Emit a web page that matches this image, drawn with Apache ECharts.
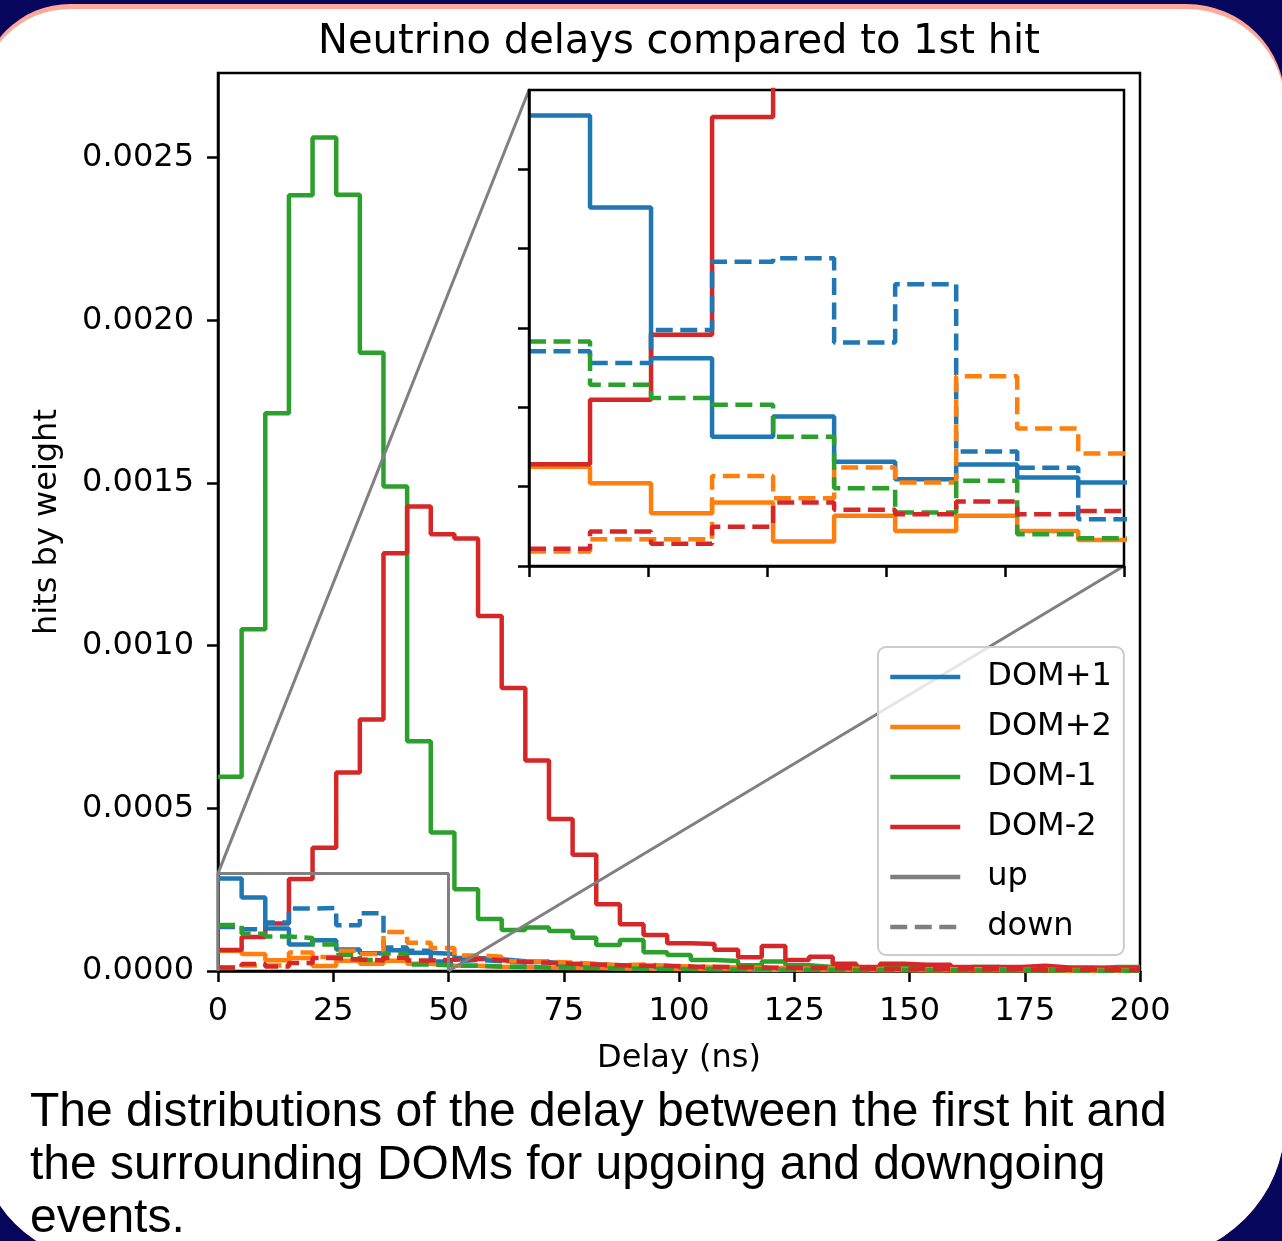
<!DOCTYPE html>
<html>
<head>
<meta charset="utf-8">
<script src="https://cdn.jsdelivr.net/npm/echarts@6/dist/echarts.min.js"></script>
<style>
  html, body { margin: 0; padding: 0; background: #06065c; }
  #main { width: 1282px; height: 1241px; }
</style>
</head>
<body>
<div id="main"></div>
<script>
// 39 bins over 0..200 ns (step histograms)
const binCount = 39;
const xRange = [0, 200];
const xTicks = [0, 25, 50, 75, 100, 125, 150, 175, 200];
const yTicks = [0, 0.0005, 0.001, 0.0015, 0.002, 0.0025];
const yMax = 0.00276;

// zoomed inset
const insetXMax = 50;
const insetYMax = 0.0003;
const insetXTicks = [0, 10, 20, 30, 40, 50];
const insetYTicks = [0, 0.00005, 0.0001, 0.00015, 0.0002, 0.00025];

const names = ['DOM+1', 'DOM+2', 'DOM-1', 'DOM-2'];
const colors = ['#1f77b4', '#ff7f0e', '#2ca02c', '#d62728'];

// upgoing (solid)
const dom1Up = [0.000284, 0.000226, 0.000131, 0.0000815, 0.0000943, 0.0000657, 0.0000547, 0.000064, 0.0000558, 0.0000526,
  0.000040, 0.000036, 0.000030, 0.000027, 0.000022, 0.000020, 0.000017, 0.000015, 0.000013, 0.000012,
  0.000010, 0.000009, 0.000009, 0.000008, 0.000007, 0.000007, 0.000006, 0.000006, 0.000005, 0.000005,
  0.000005, 0.000004, 0.000004, 0.000004, 0.000004, 0.000003, 0.000003, 0.000003, 0.000003];
const dom2Up = [0.0000625, 0.0000522, 0.0000333, 0.00004, 0.0000154, 0.0000316, 0.0000221, 0.0000316, 0.0000221, 0.0000164,
  0.000016, 0.000013, 0.000012, 0.000010, 0.000009, 0.000009, 0.000008, 0.000007, 0.000006, 0.000006,
  0.000005, 0.000005, 0.000004, 0.000004, 0.000004, 0.000003, 0.000003, 0.000003, 0.000003, 0.000002,
  0.000002, 0.000002, 0.000002, 0.000002, 0.000002, 0.000001, 0.000001, 0.000001, 0.000001];
const domM1Up = [0.000597, 0.00105, 0.001714, 0.002384, 0.002562, 0.002386, 0.0019, 0.001489, 0.000706, 0.000426,
  0.000251, 0.00016, 0.000126, 0.000134, 0.000123, 0.000102, 0.00008, 0.000095, 0.000058, 0.000049,
  0.000034, 0.000031, 0.000018, 0.000029, 0.000018, 0.000012, 0.000012, 0.00001, 0.000012, 0.00001,
  0.000008, 0.000012, 0.000012, 0.000008, 0.000008, 0.000007, 0.000006, 0.000012, 0.000012];
const domM2Up = [0.0000642, 0.0001048, 0.0001457, 0.000283, 0.000379, 0.00061, 0.000773, 0.001284, 0.001428, 0.001342,
  0.001329, 0.001091, 0.00087, 0.000647, 0.000467, 0.000357, 0.000205, 0.000144, 0.000111, 0.000085,
  0.000083, 0.000065, 0.000042, 0.000077, 0.000034, 0.000044, 0.000022, 0.000012, 0.000022, 0.000019,
  0.000019, 0.000012, 0.000012, 0.000012, 0.000016, 0.000011, 0.000011, 0.000009, 0.000009];

// downgoing (dashed)
const dom1Down = [0.0001354, 0.000128, 0.0001488, 0.0001918, 0.0001939, 0.0001408, 0.0001775, 0.0000722, 0.0000619, 0.0000295,
  0.000034, 0.000030, 0.000026, 0.000029, 0.000021, 0.000018, 0.000016, 0.000014, 0.000012, 0.000011,
  0.000010, 0.000009, 0.000008, 0.000008, 0.000007, 0.000006, 0.000006, 0.000005, 0.000005, 0.000005,
  0.000004, 0.000004, 0.000004, 0.000003, 0.000003, 0.000003, 0.000003, 0.000002, 0.000002];
const dom2Down = [0.0000091, 0.0000168, 0.0000168, 0.0000568, 0.0000427, 0.0000621, 0.0000526, 0.0001196, 0.0000867, 0.0000709,
  0.000048, 0.000044, 0.000030, 0.000028, 0.000026, 0.000022, 0.000018, 0.000020, 0.000016, 0.000014,
  0.000012, 0.000011, 0.000010, 0.000009, 0.000008, 0.000008, 0.000007, 0.000006, 0.000006, 0.000005,
  0.000005, 0.000005, 0.000004, 0.000004, 0.000004, 0.000003, 0.000003, 0.000003, 0.000003];
const domM1Down = [0.0001415, 0.0001143, 0.0001059, 0.0001017, 0.0000815, 0.000049, 0.0000337, 0.0000537, 0.00002, 0.0000175,
  0.000016, 0.000014, 0.000012, 0.000011, 0.000010, 0.000009, 0.000008, 0.000007, 0.000007, 0.000006,
  0.000006, 0.000005, 0.000005, 0.000004, 0.000004, 0.000004, 0.000003, 0.000003, 0.000003, 0.000003,
  0.000002, 0.000002, 0.000002, 0.000002, 0.000002, 0.000002, 0.000001, 0.000001, 0.000001];
const domM2Down = [0.0000109, 0.0000217, 0.0000141, 0.0000248, 0.00004, 0.0000354, 0.0000326, 0.0000406, 0.0000326, 0.0000347,
  0.000038, 0.000033, 0.000028, 0.000025, 0.000022, 0.00002, 0.000018, 0.000016, 0.000016, 0.000014,
  0.000013, 0.000012, 0.000011, 0.00001, 0.000009, 0.000009, 0.000008, 0.000007, 0.000007, 0.000006,
  0.000006, 0.000005, 0.000005, 0.000005, 0.000004, 0.000004, 0.000004, 0.000003, 0.000003];

const upData = [dom1Up, dom2Up, domM1Up, domM2Up];
const downData = [dom1Down, dom2Down, domM1Down, domM2Down];

const titleText = 'Neutrino delays compared to 1st hit';
const captionText = 'The distributions of the delay between the first hit and\nthe surrounding DOMs for upgoing and downgoing\nevents.';

const FONT = 'DejaVu Sans';
const LW = 4.5;
const DASH = [17, 7.5];
const GRAY = '#7f7f7f';

let binEdges = [];
for (let i = 0; i <= binCount; i++) {
  binEdges.push(xRange[0] + (xRange[1] - xRange[0]) * i / binCount);
}

function steps(vals) {
  let pts = vals.map((v, i) => [binEdges[i], v]);
  pts.push([binEdges[vals.length], vals[vals.length - 1]]);
  return pts;
}

function histSeries(name, color, vals, dashed, grid) {
  return {
    type: 'line',
    name: name,
    xAxisIndex: grid,
    yAxisIndex: grid,
    data: steps(vals),
    step: 'end',
    symbol: 'none',
    silent: true,
    z: grid ? 6 : 2,
    lineStyle: { color: color, width: LW, type: dashed ? DASH : 'solid' },
    itemStyle: { color: color }
  };
}

let series = [];
[0, 1].forEach(g => {
  // solid first, dashed drawn on top
  names.forEach((n, k) => series.push(histSeries(n, colors[k], upData[k], false, g)));
  names.forEach((n, k) => series.push(histSeries(n + ' down', colors[k], downData[k], true, g)));
});
// legend-only entries
series.push({ type: 'line', name: 'up', data: [], symbol: 'none', lineStyle: { color: GRAY, width: LW }, itemStyle: { color: GRAY } });
series.push({ type: 'line', name: 'down', data: [], symbol: 'none', lineStyle: { color: GRAY, width: LW, type: DASH }, itemStyle: { color: GRAY } });
// zoom region outline in the main axes
series.push({
  type: 'line', name: 'zoomBox', xAxisIndex: 0, yAxisIndex: 0, silent: true, z: 3,
  data: [[0, 0], [0, insetYMax], [insetXMax, insetYMax], [insetXMax, 0]],
  symbol: 'none', lineStyle: { color: '#808080', width: 3 }
});

let axisCommon = {
  axisLine: { show: true, lineStyle: { color: '#000', width: 2.5 } },
  axisTick: { show: true, inside: false, length: 11, lineStyle: { color: '#000', width: 2.5 } },
  splitLine: { show: false }
};

let option = {
  backgroundColor: '#06065c',
  animation: false,
  grid: [
    { left: 218, top: 73, width: 922, height: 898, show: true, backgroundColor: '#fff', borderColor: '#000', borderWidth: 2.5 },
    { left: 529, top: 90, width: 595, height: 476, show: true, backgroundColor: '#fff', borderColor: '#000', borderWidth: 2.5, z: 5 }
  ],
  xAxis: [
    Object.assign({}, axisCommon, {
      type: 'value', gridIndex: 0, min: xRange[0], max: xRange[1],
      axisTick: Object.assign({}, axisCommon.axisTick, { customValues: xTicks }),
      axisLabel: { customValues: xTicks, fontFamily: FONT, fontSize: 32, color: '#000', margin: 25 },
      name: 'Delay (ns)', nameLocation: 'middle', nameGap: 72,
      nameTextStyle: { fontFamily: FONT, fontSize: 32, color: '#000' }
    }),
    Object.assign({}, axisCommon, {
      type: 'value', gridIndex: 1, min: 0, max: insetXMax, z: 7,
      axisTick: Object.assign({}, axisCommon.axisTick, { customValues: insetXTicks }),
      axisLabel: { show: false }
    })
  ],
  yAxis: [
    Object.assign({}, axisCommon, {
      type: 'value', gridIndex: 0, min: 0, max: yMax,
      axisTick: Object.assign({}, axisCommon.axisTick, { customValues: yTicks }),
      axisLabel: { customValues: yTicks, fontFamily: FONT, fontSize: 32, color: '#000', margin: 24,
        formatter: v => v.toFixed(4) },
      name: 'hits by weight', nameLocation: 'middle', nameGap: 154,
      nameTextStyle: { fontFamily: FONT, fontSize: 32, color: '#000' }
    }),
    Object.assign({}, axisCommon, {
      type: 'value', gridIndex: 1, min: 0, max: insetYMax, z: 7,
      axisTick: Object.assign({}, axisCommon.axisTick, { customValues: insetYTicks }),
      axisLabel: { show: false }
    })
  ],
  legend: {
    orient: 'vertical', left: 878, top: 647,
    padding: [14, 12, 12, 10],
    itemWidth: 70, itemHeight: 14, itemGap: 18,
    selectedMode: false,
    backgroundColor: 'rgba(255,255,255,0.8)', borderColor: '#cccccc', borderWidth: 2, borderRadius: 8,
    itemStyle: { opacity: 0 },
    lineStyle: { width: LW },
    textStyle: { fontFamily: FONT, fontSize: 32, lineHeight: 32, color: '#000', padding: [0, 0, 0, 22] },
    data: ['DOM+1', 'DOM+2', 'DOM-1', 'DOM-2', 'up', 'down']
  },
  series: series
};

let chart = echarts.init(document.getElementById('main'), null, { width: 1282, height: 1241 });
chart.setOption(option);

// slide panel, titles and inset connector lines
let a1 = chart.convertToPixel({ gridIndex: 0 }, [0, insetYMax]);
let b1 = chart.convertToPixel({ gridIndex: 1 }, [0, insetYMax]);
let a2 = chart.convertToPixel({ gridIndex: 0 }, [insetXMax, 0]);
let b2 = chart.convertToPixel({ gridIndex: 1 }, [insetXMax, 0]);

chart.setOption({
  graphic: [
    { type: 'rect', z: -3, shape: { x: -20, y: 4, width: 1305, height: 1255, r: [90, 98, 137, 120] }, style: { fill: '#ffa898' } },
    { type: 'rect', z: -2, shape: { x: -20, y: 9, width: 1305, height: 1250, r: [90, 98, 137, 120] }, style: { fill: '#ffffff' } },
    { type: 'text', z: 1, x: 679, y: 23, style: { text: titleText, font: '40px "' + FONT + '"', fill: '#000', textAlign: 'center', textVerticalAlign: 'top' } },
    { type: 'text', z: 1, x: 30, y: 1086, style: { text: captionText, font: '48px "Liberation Sans"', lineHeight: 53, fill: '#000', textAlign: 'left', textVerticalAlign: 'top' } },
    { type: 'line', z: 3, silent: true, shape: { x1: a1[0], y1: a1[1], x2: b1[0], y2: b1[1] }, style: { stroke: '#808080', lineWidth: 3 } },
    { type: 'line', z: 3, silent: true, shape: { x1: a2[0], y1: a2[1], x2: b2[0], y2: b2[1] }, style: { stroke: '#808080', lineWidth: 3 } }
  ]
});
</script>
</body>
</html>
